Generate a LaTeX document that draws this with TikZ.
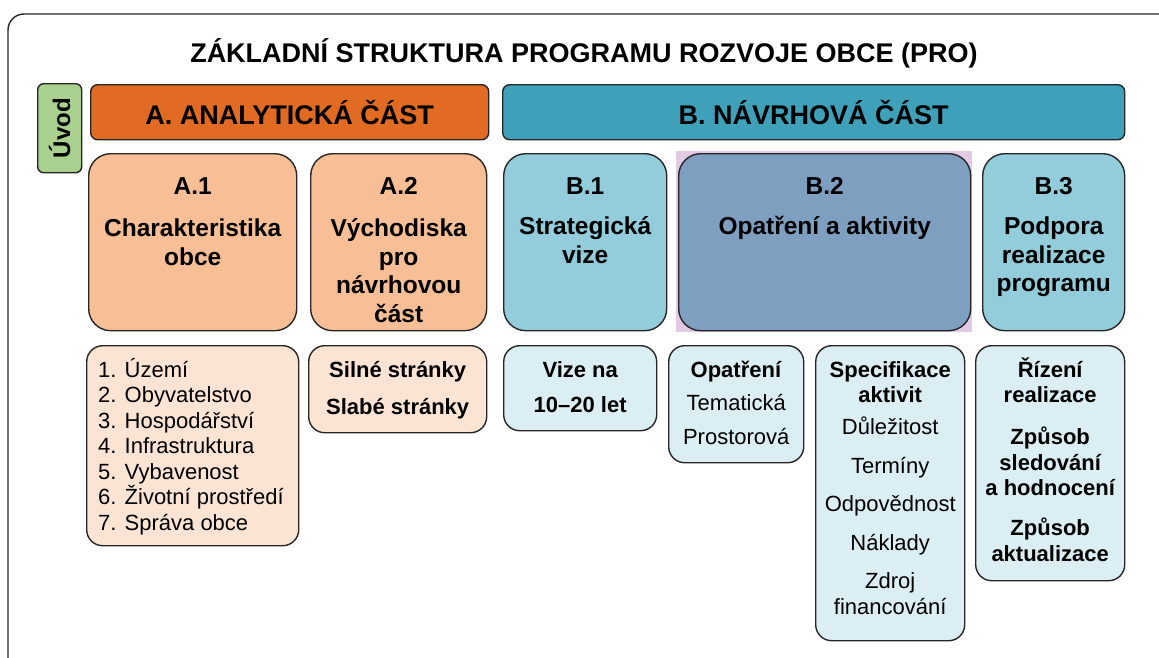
\documentclass[tikz,border=0pt]{standalone}
\usepackage{fontspec}
\setmainfont{Liberation Sans}
\usetikzlibrary{positioning}

\definecolor{edge}{HTML}{262626}
\definecolor{headA}{HTML}{E26B24}
\definecolor{boxA}{HTML}{F8BF96}
\definecolor{listA}{HTML}{FCE4D5}
\definecolor{headB}{HTML}{3FA0BA}
\definecolor{boxB}{HTML}{93CDDC}
\definecolor{boxBtwo}{HTML}{7F9FC1}
\definecolor{listB}{HTML}{DBEEF3}
\definecolor{uvodgreen}{HTML}{A9D08E}
\definecolor{pinkrim}{HTML}{E2CAE2}

\newcommand\topline{\rule{0pt}{1em}}
\newcommand\titlefont{\fontsize{27}{31}\selectfont\bfseries}
\newcommand\rowtwofont{\fontsize{24.5}{28.5}\selectfont\bfseries}
\newcommand\rowthreefont{\fontsize{22}{25.5}\selectfont}

\tikzset{
  panel/.style={draw=edge, line width=1.4pt, inner sep=0pt, anchor=north west},
  headbox/.style={panel, rounded corners=7pt, minimum height=55pt, font=\titlefont},
  partbox/.style={panel, rounded corners=22pt, minimum height=177pt},
  listbox/.style={panel, rounded corners=16pt},
  rowtwo/.style={inner sep=0pt, align=center, anchor=north, font=\rowtwofont},
  rowthree/.style={inner sep=0pt, align=center, anchor=north, font=\rowthreefont},
}

\begin{document}
\begin{tikzpicture}[x=1pt,y=-1pt]
\useasboundingbox (0,0) rectangle (1159,657);

% frame and title
\draw[edge, line width=1.4pt, rounded corners=16pt] (8,14) rectangle (1200,720);
\node[anchor=base, inner sep=0pt, font=\titlefont] (title) at (584,62)
  {ZÁKLADNÍ STRUKTURA PROGRAMU ROZVOJE OBCE (PRO)};

% headers
\node[panel, rounded corners=6pt, fill=uvodgreen, minimum width=44pt, minimum height=89pt] (uvod) at (37,83) {};
\node[rotate=90, inner sep=0pt, font=\fontsize{24}{28}\selectfont\bfseries] (uvodt) at (uvod.center) {Úvod};
\node[headbox, fill=headA, minimum width=398pt] (ahead) at (90,84) {A. ANALYTICKÁ ČÁST};
\node[headbox, fill=headB, minimum width=622pt] (bhead) at (502,84) {B. NÁVRHOVÁ ČÁST};

% second row
\node[partbox, fill=boxA, minimum width=208pt] (a1) at (88,153) {};
\node[partbox, fill=boxA, minimum width=176pt] (a2) at (310,153) {};
\node[partbox, fill=boxB, minimum width=163pt] (b1) at (503,153) {};
\node[anchor=north west, inner sep=0pt, fill=pinkrim, minimum width=296pt, minimum height=181pt] (b2rim) at (676,151) {};
\node[partbox, fill=boxBtwo, minimum width=292pt] (b2) at (678,153) {};
\node[partbox, fill=boxB, minimum width=142pt] (b3) at (982,153) {};

\node[rowtwo, below=16.5pt of a1.north] (a1t) {\topline A.1\\[14pt]Charakteristika\\obce};
\node[rowtwo, below=16.5pt of a2.north] (a2t) {\topline A.2\\[14pt]Východiska\\pro\\návrhovou\\část};
\node[rowtwo, below=16.5pt of b1.north] (b1t) {\topline B.1\\[12pt]Strategická\\vize};
\node[rowtwo, below=16.5pt of b2.north] (b2t) {\topline B.2\\[12pt]Opatření a aktivity};
\node[rowtwo, below=16.5pt of b3.north] (b3t) {\topline B.3\\[12pt]Podpora\\realizace\\programu};

% third row
\node[listbox, fill=listA, minimum width=212pt, minimum height=200pt] (a1l) at (86,345) {};
\node[listbox, fill=listA, minimum width=178pt, minimum height=87pt] (a2l) at (308,345) {};
\node[listbox, fill=listB, minimum width=153pt, minimum height=85pt] (b1l) at (503,345) {};
\node[listbox, fill=listB, minimum width=135pt, minimum height=117pt] (b2l) at (668,345) {};
\node[listbox, fill=listB, minimum width=149pt, minimum height=295pt] (b2s) at (815,345) {};
\node[listbox, fill=listB, minimum width=149pt, minimum height=235pt] (b3l) at (975,345) {};

\node[rowthree, align=left, below right=10pt and 12pt of a1l.north west] (a1lt)
  {\topline 1. Území\\2. Obyvatelstvo\\3. Hospodářství\\4. Infrastruktura\\5. Vybavenost\\6. Životní prostředí\\7. Správa obce};
\node[rowthree, font=\rowthreefont\bfseries, below=10pt of a2l.north] (a2lt)
  {\topline Silné stránky\\[11.5pt]Slabé stránky};
\node[rowthree, font=\rowthreefont\bfseries, below=10pt of b1l.north] (b1lt)
  {\topline Vize na\\[9.5pt]10–20 let};
\node[rowthree, below=10pt of b2l.north] (b2lt)
  {\topline\textbf{Opatření}\\[8pt]Tematická\\[8pt]Prostorová};
\node[rowthree, below=10pt of b2s.north] (b2st)
  {\topline\textbf{Specifikace}\\\textbf{aktivit}\\[6.5pt]Důležitost\\[13.5pt]Termíny\\[12.5pt]Odpovědnost\\[13.5pt]Náklady\\[12.5pt]Zdroj\\financování};
\node[rowthree, font=\rowthreefont\bfseries, below=10pt of b3l.north] (b3lt)
  {\topline Řízení\\realizace\\[16.5pt]Způsob\\sledování\\a hodnocení\\[14.5pt]Způsob\\aktualizace};

\end{tikzpicture}
\end{document}
